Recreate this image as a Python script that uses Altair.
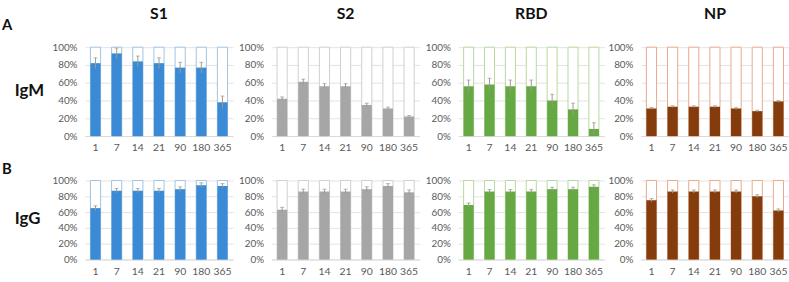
import altair as alt
import pandas as pd

days = ["1", "7", "14", "21", "90", "180", "365"]
antigens = ["S1", "S2", "RBD", "NP"]
row_names = ["IgM", "IgG"]
row_letters = ["A", "B"]
y_ticks = [0, 20, 40, 60, 80, 100]

igm_s1 = [82, 93, 84, 82, 77, 77, 38]
igm_s1_err = [6, 6, 6, 6, 6, 6, 7]
igm_s2 = [42, 61, 56, 56, 35, 31, 22]
igm_s2_err = [2, 3, 3, 3, 2, 1.5, 1]
igm_rbd = [56, 58, 56, 56, 40, 30, 8]
igm_rbd_err = [7, 7, 7, 7, 7, 7, 7]
igm_np = [31, 33, 33, 33, 31, 28, 39]
igm_np_err = [1, 1, 1, 1, 1, 1, 1]

igg_s1 = [65, 87, 87, 87, 89, 94, 93]
igg_s1_err = [3, 3, 3, 3, 3, 3, 3]
igg_s2 = [63, 86, 86, 86, 89, 93, 85]
igg_s2_err = [3, 3, 3, 3, 3, 3, 3]
igg_rbd = [69, 86, 86, 86, 89, 89, 92]
igg_rbd_err = [2.5, 2.5, 2.5, 2.5, 2.5, 2.5, 2.5]
igg_np = [75, 86, 86, 86, 86, 80, 62]
igg_np_err = [2, 2, 2, 2, 2, 2, 2]

fill_colors = ["#3b8ad6", "#a6a6a6", "#66a844", "#843c0c"]
stroke_colors = ["#9dc3e6", "#cfcfcf", "#b5d99c", "#e9a98a"]
err_color = "#9a9a8a"
FONT = "Lato"

igm = [(igm_s1, igm_s1_err), (igm_s2, igm_s2_err), (igm_rbd, igm_rbd_err), (igm_np, igm_np_err)]
igg = [(igg_s1, igg_s1_err), (igg_s2, igg_s2_err), (igg_rbd, igg_rbd_err), (igg_np, igg_np_err)]

extents = [30, 36, 36, 28]
widths = [150, 150, 148, 150]


def panel(vals, errs, i, height, title):
    df = pd.DataFrame({
        "day": days,
        "value": vals,
        "lo": [v - e for v, e in zip(vals, errs)],
        "hi": [v + e for v, e in zip(vals, errs)],
        "full": [100] * len(days),
    })
    x = alt.X("day:N", sort=days,
              scale=alt.Scale(paddingInner=0.52, paddingOuter=0.26),
              axis=alt.Axis(labelAngle=0, ticks=False, domain=True, domainColor="#d9d9d9",
                            grid=False, title=None, labelPadding=7, labelFontSize=10.5,
                            labelColor="#595959", labelFont=FONT))
    yscale = alt.Scale(domain=[0, 100], nice=False, zero=True)
    yaxis = alt.Axis(values=y_ticks, labelExpr="datum.value + '%'",
                     ticks=False, domain=False, grid=True, gridColor="#e3e3e3",
                     labelPadding=8, labelFontSize=10, labelColor="#595959", labelFont=FONT,
                     labelOverlap=False, labelBound=False, labelFlush=False,
                     title=None, minExtent=extents[i], maxExtent=extents[i])
    base = alt.Chart(df)
    hollow = base.mark_bar(fill="white", stroke=stroke_colors[i], strokeWidth=1).encode(
        x=x, y=alt.Y("full:Q", scale=yscale, axis=yaxis))
    filled = base.mark_bar(color=fill_colors[i]).encode(
        x=x, y=alt.Y("value:Q", scale=yscale, axis=yaxis))
    rule = base.mark_rule(color=err_color, strokeWidth=1).encode(
        x=x, y=alt.Y("lo:Q", scale=yscale, axis=yaxis), y2="hi:Q")
    cap = base.mark_tick(color=err_color, size=4, thickness=1).encode(
        x=x, y=alt.Y("hi:Q", scale=yscale, axis=yaxis))
    ch = alt.layer(hollow, filled, rule, cap).properties(width=widths[i], height=height)
    if title:
        ch = ch.properties(title=alt.TitleParams(text=title, fontSize=16, fontWeight="bold",
                                                 font=FONT, offset=21, anchor="middle",
                                                 frame="group", color="#111111"))
    return ch


def label_panel(letter, name, height, letter_y, name_y):
    d = alt.Data(values=[{"letter": letter, "name": name}])
    lt = alt.Chart(d).mark_text(align="left", baseline="middle", fontSize=15, fontWeight="bold",
                                font=FONT, color="#111111").encode(
        x=alt.value(2), y=alt.value(letter_y), text="letter:N")
    nm = alt.Chart(d).mark_text(align="left", baseline="middle", fontSize=17, fontWeight="bold",
                                font=FONT, color="#111111").encode(
        x=alt.value(15), y=alt.value(name_y), text="name:N")
    return alt.layer(lt, nm).properties(width=49, height=height)


row1 = alt.hconcat(label_panel(row_letters[0], row_names[0], 90, -22, 44),
                   *[panel(v, e, i, 90, antigens[i]) for i, (v, e) in enumerate(igm)],
                   spacing=3)
row2 = alt.hconcat(label_panel(row_letters[1], row_names[1], 80, -12, 39),
                   *[panel(v, e, i, 80, None) for i, (v, e) in enumerate(igg)],
                   spacing=3)

chart = alt.vconcat(row1, row2, spacing=8).properties(
    padding={"left": 0, "top": 4, "right": 0, "bottom": 0}
).configure(background="white").configure_view(stroke=None, strokeWidth=0)

chart.save("out.html", embed_options={"renderer": "svg", "actions": False})
